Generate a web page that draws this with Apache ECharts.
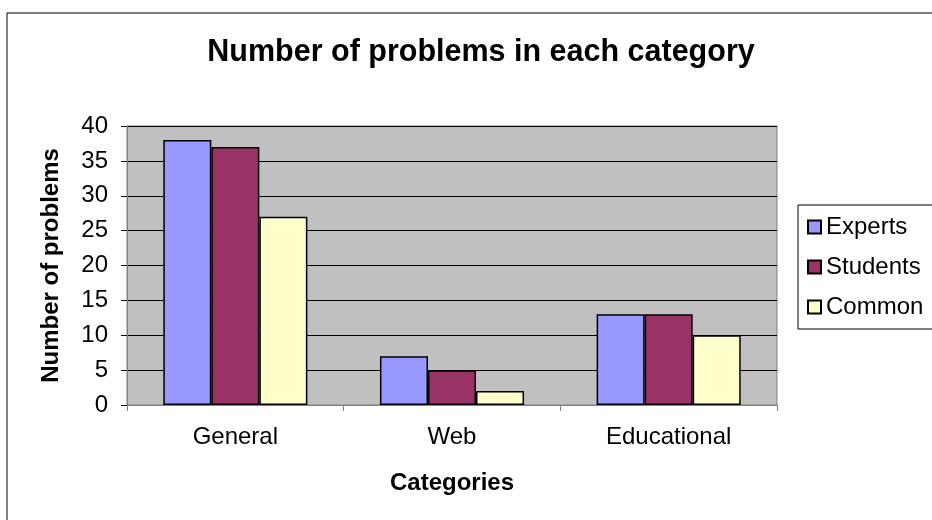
<!DOCTYPE html>
<html>
<head>
<meta charset="utf-8">
<script src="https://cdn.jsdelivr.net/npm/echarts@6/dist/echarts.min.js"></script>
<style>
  html, body { margin: 0; padding: 0; background: #fff; }
  #chart { width: 932px; height: 520px; }
</style>
</head>
<body>
<div id="chart"></div>
<script>
// Problem counts per category, one array per group of respondents
const categories = ['General', 'Web', 'Educational'];
const experts = [38, 7, 13];
const students = [37, 5, 13];
const common = [27, 2, 10];
const seriesNames = ['Experts', 'Students', 'Common'];
const seriesColors = ['#9999FF', '#993366', '#FFFFCC'];

const FONT = 'Liberation Sans, Arial, sans-serif';

const chart = echarts.init(document.getElementById('chart'), null, { renderer: 'canvas' });

const makeBar = (name, data, color) => ({
  name: name,
  type: 'bar',
  data: data,
  barGap: '0%',
  barCategoryGap: '33.5%',
  itemStyle: { color: color, borderColor: '#000', borderWidth: 1.5 },
  emphasis: { disabled: true }
});

chart.setOption({
  animation: false,
  backgroundColor: '#fff',
  title: {
    text: 'Number of problems in each category',
    left: 476,
    top: 32,
    textAlign: 'center',
    textStyle: { fontFamily: FONT, fontSize: 30.5, fontWeight: 'bold', color: '#000' }
  },
  graphic: [{
    type: 'rect',
    left: 4.5, top: 10.5,
    shape: { width: 1000, height: 1000 },
    style: { fill: 'none', stroke: '#000', lineWidth: 1 },
    silent: true, z: -1
  }],
  legend: {
    orient: 'vertical',
    left: 798,
    top: 205,
    padding: [10, 40, 10, 9],
    itemWidth: 13,
    itemHeight: 13,
    itemGap: 16,
    borderColor: '#000',
    borderWidth: 1,
    backgroundColor: '#fff',
    icon: 'rect',
    textStyle: { fontFamily: FONT, fontSize: 24, color: '#000', lineHeight: 24 },
    data: seriesNames
  },
  grid: {
    left: 127, top: 126, width: 650, height: 279,
    show: true,
    backgroundColor: '#C0C0C0',
    borderColor: '#808080',
    borderWidth: 1
  },
  xAxis: {
    type: 'category',
    data: categories,
    name: 'Categories',
    nameLocation: 'middle',
    nameGap: 66,
    nameTextStyle: { fontFamily: FONT, fontSize: 24, fontWeight: 'bold', color: '#000' },
    axisLine: { lineStyle: { color: '#808080', width: 1 } },
    axisTick: { show: true, alignWithLabel: false, length: 6, lineStyle: { color: '#808080' } },
    axisLabel: { fontFamily: FONT, fontSize: 24, color: '#000', margin: 20 },
    splitLine: { show: false }
  },
  yAxis: {
    type: 'value',
    min: 0, max: 40, interval: 5,
    name: 'Number of problems',
    nameLocation: 'middle',
    nameGap: 64,
    nameRotate: 90,
    nameTextStyle: { fontFamily: FONT, fontSize: 24, fontWeight: 'bold', color: '#000' },
    axisLine: { show: true, lineStyle: { color: '#808080', width: 1 } },
    axisTick: { show: true, length: 6, lineStyle: { color: '#000' } },
    axisLabel: { fontFamily: FONT, fontSize: 24, color: '#000', margin: 19 },
    splitLine: { show: true, lineStyle: { color: '#000', width: 1 } }
  },
  series: [
    makeBar(seriesNames[0], experts, seriesColors[0]),
    makeBar(seriesNames[1], students, seriesColors[1]),
    makeBar(seriesNames[2], common, seriesColors[2])
  ]
});
</script>
</body>
</html>
